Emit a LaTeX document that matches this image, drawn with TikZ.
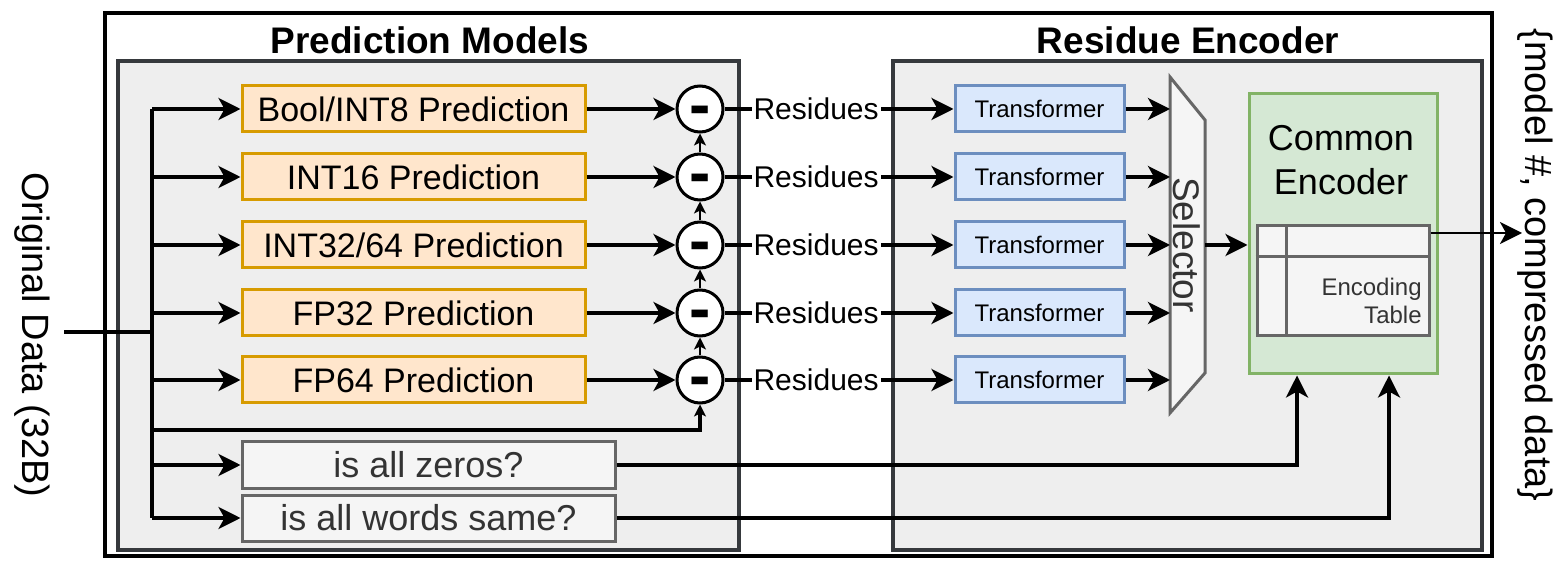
\documentclass[tikz,border=0pt]{standalone}
\usepackage{fontspec}
\setmainfont{Liberation Sans}
\usepackage{tikz}
\usetikzlibrary{arrows.meta,positioning}
\definecolor{predfill}{HTML}{FFE6CC}
\definecolor{predline}{HTML}{D79B00}
\definecolor{xffill}{HTML}{DAE8FC}
\definecolor{xfline}{HTML}{6C8EBF}
\definecolor{encfill}{HTML}{D5E8D4}
\definecolor{encline}{HTML}{82B366}
\definecolor{tstfill}{HTML}{F5F5F5}
\definecolor{tstline}{HTML}{666666}
\definecolor{tsttext}{HTML}{333333}
\definecolor{grpfill}{HTML}{EEEEEE}
\definecolor{grpline}{HTML}{36393D}
\newcommand{\FS}[2]{\fontsize{#1}{#2}\selectfont}

\begin{document}
\begin{tikzpicture}[x=0.5pt, y=-0.5pt,
  conn/.style={line width=1.75pt},
  arr/.style={conn, -{Stealth[length=11pt, width=11pt, inset=3pt]}},
  tinyarr/.style={line width=1.3pt, -{Stealth[length=6pt, width=6pt, inset=1.5pt]}},
  outerbox/.style={draw=black, line width=2pt},
  group/.style={draw=grpline, fill=grpfill, line width=2pt},
  title/.style={font=\FS{18.5pt}{22pt}\bfseries, inner sep=0pt},
  predbox/.style={draw=predline, fill=predfill, line width=1.5pt, minimum width=171.5pt, minimum height=23pt, inner sep=0pt, font=\FS{17pt}{20pt}},
  tstbox/.style={draw=tstline, fill=tstfill, line width=1.5pt, minimum width=186.5pt, minimum height=23pt, inner sep=0pt, text=tsttext, font=\FS{18pt}{21pt}},
  xfbox/.style={draw=xfline, fill=xffill, line width=1.5pt, minimum width=84.5pt, minimum height=23pt, inner sep=0pt, font=\FS{12pt}{14pt}},
  minus/.style={circle, draw=black, fill=white, line width=1.5pt, minimum size=23pt, inner sep=0pt, text height=18pt, text depth=0pt, font=\FS{32pt}{34pt}\bfseries},
  res/.style={pos=0.4, fill=white, inner sep=1pt, font=\FS{15pt}{18pt}},
  side/.style={rotate=-90, inner sep=0pt, font=\FS{19pt}{22pt}}
]

  \useasboundingbox (0,0) rectangle (1563,566);

  \draw[outerbox] (105,13) rectangle (1492,556);
  \draw[group] (118,61) rectangle (739,550);
  \draw[group] (893,61) rectangle (1482,550);
  \node[title] (tpm) at (430,40) {Prediction Models};
  \node[title] (tre) at (1188,40) {Residue Encoder};

  \node[side] (orig) at (32,335) {Original Data (32B)};
  \coordinate (in) at (64,332);
  \coordinate (bus) at (152,332);
  \coordinate (feed) at (152,430);

  \node[predbox] (p1) at (413.5,109) {Bool/INT8 Prediction};
  \node[predbox] (p2) at (413.5,177) {INT16 Prediction};
  \node[predbox] (p3) at (413.5,245) {INT32/64 Prediction};
  \node[predbox] (p4) at (413.5,313) {FP32 Prediction};
  \node[predbox] (p5) at (413.5,380) {FP64 Prediction};
  \node[tstbox] (zero) at (428.5,465) {is all zeros?};
  \node[tstbox] (same) at (428.5,518) {is all words same?};

  \node[minus] (m1) at (700,109) {-};
  \node[minus] (m2) at (700,177) {-};
  \node[minus] (m3) at (700,245) {-};
  \node[minus] (m4) at (700,313) {-};
  \node[minus] (m5) at (700,380) {-};

  \node[xfbox] (t1) at (1039.5,109) {Transformer};
  \node[xfbox] (t2) at (1039.5,177) {Transformer};
  \node[xfbox] (t3) at (1039.5,245) {Transformer};
  \node[xfbox] (t4) at (1039.5,313) {Transformer};
  \node[xfbox] (t5) at (1039.5,380) {Transformer};

  % input bus
  \draw[conn] (in) -- (bus);
  \draw[conn] (bus |- p1) -- (bus |- same);
  \draw[arr] (bus |- p1) -- (p1);
  \draw[arr] (bus |- p2) -- (p2);
  \draw[arr] (bus |- p3) -- (p3);
  \draw[arr] (bus |- p4) -- (p4);
  \draw[arr] (bus |- p5) -- (p5);
  \draw[arr] (bus |- zero) -- (zero);
  \draw[arr] (bus |- same) -- (same);
  \draw[conn, -{Stealth[length=6pt, width=6pt, inset=1.5pt]}] (feed) -| (m5);

  \draw[arr] (p1) -- (m1);
  \draw[arr] (p2) -- (m2);
  \draw[arr] (p3) -- (m3);
  \draw[arr] (p4) -- (m4);
  \draw[arr] (p5) -- (m5);
  \draw[tinyarr] (m2) -- (m1); %% m2->m1
  \draw[tinyarr] (m3) -- (m2);
  \draw[tinyarr] (m4) -- (m3);
  \draw[tinyarr] (m5) -- (m4);

  \draw[arr] (m1) -- node[res] {Residues} (t1);
  \draw[arr] (m2) -- node[res] {Residues} (t2);
  \draw[arr] (m3) -- node[res] {Residues} (t3);
  \draw[arr] (m4) -- node[res] {Residues} (t4);
  \draw[arr] (m5) -- node[res] {Residues} (t5);

  % selector
  \draw[draw=tstline, fill=tstfill, line width=1.5pt] (1170,77) -- (1205,120) -- (1205,373) -- (1170,413) -- cycle;
  \node[side, text=tsttext, font=\FS{18.5pt}{22pt}] (sel) at (1187,245) {Selector};
  \coordinate (selW) at (1170,245);
  \coordinate (selE) at (1205,245);
  \draw[arr] (t1) -- (t1 -| selW);
  \draw[arr] (t2) -- (t2 -| selW);
  \draw[arr] (t3) -- (t3 -| selW);
  \draw[arr] (t4) -- (t4 -| selW);
  \draw[arr] (t5) -- (t5 -| selW);

  % common encoder
  \node[draw=encline, fill=encfill, line width=1.5pt, minimum width=94pt, minimum height=140pt] (enc) at (1343,234) {};
  \node[align=center, inner sep=0pt, font=\FS{18pt}{22pt}] (enct) at (1341,160) {Common\\Encoder};
  \node[draw=tstline, fill=tstfill, line width=1.5pt, minimum width=86pt, minimum height=55pt] (tab) at (1343,281) {};
  \draw[draw=tstline, line width=1.5pt] ([xshift=15.5pt]tab.north west) -- ([xshift=15.5pt]tab.south west);
  \draw[draw=tstline, line width=1.5pt] ([yshift=-16pt]tab.north west) -- ([yshift=-16pt]tab.north east);
  \node[anchor=east, align=right, inner sep=0pt, text=tsttext, font=\FS{12pt}{14pt}] (tabt) at (1422,301) {Encoding\\Table};

  \draw[arr] (selE) -- (selE -| enc.west);
  \draw[arr] (zero) -| ([xshift=-23pt]enc.south);
  \draw[arr] (same) -| ([xshift=23pt]enc.south);

  % output
  \coordinate (outp) at (1522,233);
  \draw[conn, line width=1.4pt, -{Stealth[length=11pt, width=11pt, inset=3pt]}] (outp -| tab.east) -- (outp);
  \node[side] (comp) at (1535,265) {\{model \#, compressed data\}};

\end{tikzpicture}
\end{document}
